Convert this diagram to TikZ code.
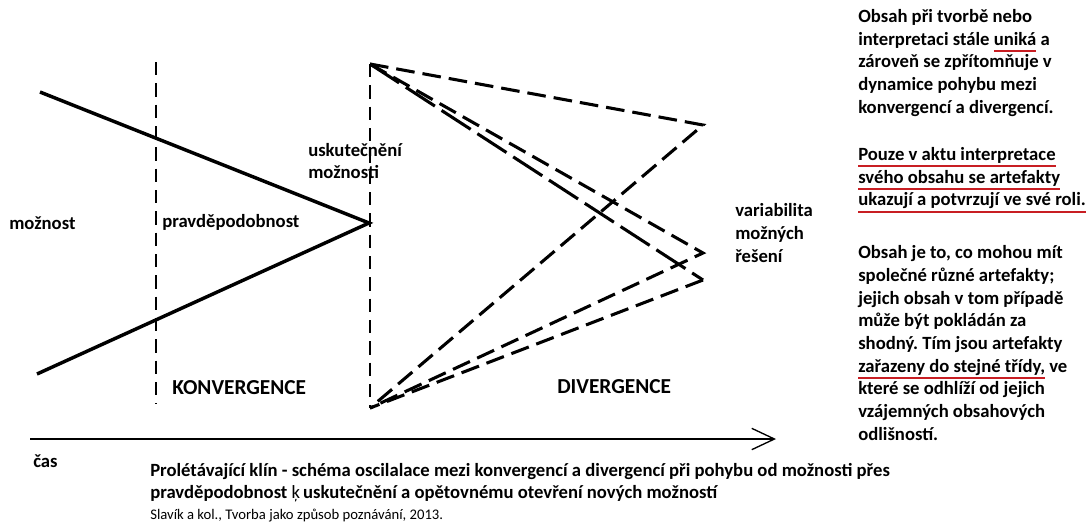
\documentclass[tikz,border=0pt]{standalone}
\usepackage{fontspec}
\setmainfont{Carlito}
\usetikzlibrary{arrows.meta,positioning}
\frenchspacing

\definecolor{markred}{RGB}{200,30,35}

% red stroke under a phrase
\newsavebox{\ulbox}
\newcommand{\redul}[1]{\sbox\ulbox{#1}\rlap{\color{markred}\rule[-5pt]{\wd\ulbox}{1.5pt}}\usebox\ulbox}

\begin{document}
\begin{tikzpicture}[x=0.75pt,y=-0.75pt,
  wedge/.style={line width=2.6pt},
  guide/.style={line width=1.3pt,dash pattern=on 10pt off 6pt},
  spread/.style={line width=2.3pt,dash pattern=on 14pt off 6pt},
  longspread/.style={spread,dash pattern=on 26pt off 6pt},
  lbl/.style={font=\fontsize{14}{17}\selectfont\bfseries,inner sep=0pt,anchor=west,align=left},
  big/.style={lbl,font=\fontsize{16}{19}\selectfont\bfseries}]
\useasboundingbox (0,0) rectangle (1091,529);

% corners of the wedge
\coordinate (w1) at (40,92);
\coordinate (w2) at (37,374);
\coordinate (apex) at (369,223);
\coordinate (top) at (370,64);
\coordinate (bot) at (370,408);
\coordinate (v1) at (703,125);
\coordinate (v2) at (703,253);
\coordinate (v3) at (703,280);

% borders between the phases
\coordinate (g1a) at (156,62);
\coordinate (g1b) at (156,404);
\draw[guide] (g1a) -- (g1b);
\draw[guide] (top) -- (bot);

% convergence
\draw[wedge] (w1) -- (apex) -- (w2);

% divergence
\draw[spread] (top) -- (v1) -- (bot);
\draw[spread] (top) -- (v2) -- (bot);
\draw[longspread] (top) -- (v3);
\draw[spread] (v3) -- (bot);

% time axis
\coordinate (t0) at (30,439);
\coordinate (t1) at (776,439);
\draw[line width=1pt,-{Straight Barb[length=17pt,width=16pt]}] (t0) -- (t1);

\node[lbl] (poss) at (9,223) {možnost};
\node[lbl] (prob) at (162,222) {pravděpodobnost};
\node[lbl] (real) at (308,161) {uskutečnění\\možnosti};
\node[lbl] (var) at (735,233) {variabilita\\možných\\řešení};
\node[big] (conv) at (172,388) {KONVERGENCE};
\node[big] (div) at (557,387) {DIVERGENCE};
\node[lbl] (time) at (33,461) {čas};

% notes on the right
\node[lbl] (para1) at (858,63) {Obsah při tvorbě nebo\\
  interpretaci stále \redul{uniká} a\\
  zároveň se zpřítomňuje v\\
  dynamice pohybu mezi\\
  konvergencí a divergencí.};
\node[lbl] (para2) at (858,180) {\redul{Pouze v aktu interpretace}\\
  \redul{svého obsahu se artefakty}\\
  \redul{ukazují a potvrzují ve své roli.}};
\node[lbl] (para3) at (858,343) {Obsah je to, co mohou mít\\
  společné různé artefakty;\\
  jejich obsah v~tom případě\\
  může být pokládán za\\
  shodný. Tím jsou artefakty\\
  \redul{zařazeny do stejné třídy,} ve\\
  které se odhlíží od jejich\\
  vzájemných obsahových\\
  odlišností.};

% caption and source
\node[lbl,font=\fontsize{14}{16.5}\selectfont\bfseries] (cap) at (150,483)
  {Prolétávající klín - schéma oscilalace mezi konvergencí a divergencí při pohybu od možnosti přes\\
   pravděpodobnost {\mdseries ķ}\,uskutečnění a opětovnému otevření nových možností};
\node[lbl,font=\fontsize{11}{13}\selectfont] (src) at (150,516)
  {Slavík a kol., Tvorba jako způsob poznávání, 2013.};
\end{tikzpicture}
\end{document}
